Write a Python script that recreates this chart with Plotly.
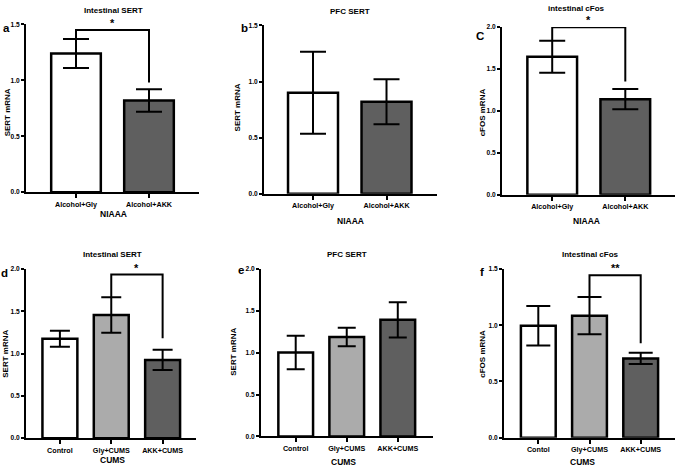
import plotly.graph_objects as go

# ---------------- data ----------------
niaaa_cats = ["Alcohol+Gly", "Alcohol+AKK"]
cums_cats = ["Control", "Gly+CUMS", "AKK+CUMS"]
cums_cats_f = ["Contol", "Gly+CUMS", "AKK+CUMS"]

a_mean = [1.24, 0.82]
a_sem = [0.13, 0.10]
b_mean = [0.90, 0.82]
b_sem = [0.365, 0.20]
c_mean = [1.645, 1.14]
c_sem = [0.19, 0.12]
d_mean = [1.175, 1.455, 0.925]
d_sem = [0.095, 0.21, 0.12]
e_mean = [1.00, 1.185, 1.39]
e_sem = [0.20, 0.11, 0.21]
f_mean = [0.995, 1.085, 0.705]
f_sem = [0.175, 0.165, 0.05]

# significance brackets: (left idx, right idx, bracket height, right leg end, label)
a_sig = (0, 1, 1.45, 0.98, "*")
c_sig = (0, 1, 1.995, 1.35, "*")
d_sig = (1, 2, 1.934, 1.18, "*")
f_sig = (1, 2, 1.444, 0.84, "**")

# ---------------- styling ----------------
W, H = 676, 470
FONT = "Liberation Sans, Arial, sans-serif"
WHITE, LIGHT, DARK = "#ffffff", "#ababab", "#5f5f5f"
two_colors = [WHITE, DARK]
three_colors = [WHITE, LIGHT, DARK]


def fx(px):
    return px / W


def fy(py):
    return 1 - py / H


panels = [
    dict(cats=niaaa_cats, mean=a_mean, sem=a_sem, colors=two_colors, sig=a_sig,
         xd=(26, 199), yd=(191, 20.7), ymax=1.5, title="Intestinal SERT", tpos=(113, 7),
         letter="a", lpos=(6, 24), ytitle="SERT mRNA", ytpos=(7, 110),
         xtitle="NIAAA", xtpos=(113, 213), cap=13, xr=(-0.685, 1.685)),
    dict(cats=niaaa_cats, mean=b_mean, sem=b_sem, colors=two_colors, sig=None,
         xd=(264, 437), yd=(192.7, 21.7), ymax=1.5, title="PFC SERT", tpos=(350, 8),
         letter="b", lpos=(244, 24), ytitle="SERT mRNA", ytpos=(237, 105),
         xtitle="NIAAA", xtpos=(350, 220), cap=13, xr=(-0.667, 1.687)),
    dict(cats=niaaa_cats, mean=c_mean, sem=c_sem, colors=two_colors, sig=c_sig,
         xd=(502, 675), yd=(193.7, 23.3), ymax=2.0, title="intestinal cFos", tpos=(576, 5),
         letter="C", lpos=(480, 32), ytitle="cFOS mRNA", ytpos=(482, 110),
         xtitle="NIAAA", xtpos=(586, 220), cap=13, xr=(-0.687, 1.68)),
    dict(cats=cums_cats, mean=d_mean, sem=d_sem, colors=three_colors, sig=d_sig,
         xd=(26, 196), yd=(440.7, 269), ymax=2.0, title="Intestinal SERT", tpos=(112, 254),
         letter="d", lpos=(4, 273), ytitle="SERT mRNA", ytpos=(6, 355),
         xtitle="CUMS", xtpos=(112, 463), cap=10, xr=(-0.66, 2.65)),
    dict(cats=cums_cats, mean=e_mean, sem=e_sem, colors=three_colors, sig=None,
         xd=(261, 433), yd=(439, 268.7), ymax=2.0, title="PFC SERT", tpos=(347, 254),
         letter="e", lpos=(241, 270), ytitle="SERT mRNA", ytpos=(234, 353),
         xtitle="CUMS", xtpos=(343, 465), cap=9, xr=(-0.68, 2.69)),
    dict(cats=cums_cats_f, mean=f_mean, sem=f_sem, colors=three_colors, sig=f_sig,
         xd=(504, 675), yd=(440.3, 269), ymax=1.5, title="Intestinal cFos", tpos=(590, 254),
         letter="f", lpos=(482, 272), ytitle="cFOS mRNA", ytpos=(483, 355),
         xtitle="CUMS", xtpos=(582, 465), cap=12, xr=(-0.67, 2.67)),
]

fig = go.Figure()
annotations = []
shapes = []

for i, p in enumerate(panels, start=1):
    xa = "x" if i == 1 else f"x{i}"
    ya = "y" if i == 1 else f"y{i}"
    xpos = list(range(len(p["cats"])))
    fig.add_trace(go.Bar(
        x=xpos, y=p["mean"], xaxis=xa, yaxis=ya, width=0.68,
        marker=dict(color=p["colors"], line=dict(color="black", width=2.5)),
        error_y=dict(type="data", array=p["sem"], visible=True,
                     color="black", thickness=2, width=p["cap"]),
        showlegend=False, hoverinfo="skip",
    ))
    axis_common = dict(showline=True, linecolor="black", linewidth=2,
                       ticks="outside", tickwidth=2, tickcolor="black",
                       showgrid=False, zeroline=False, fixedrange=True)
    fig.layout[("xaxis" if i == 1 else f"xaxis{i}")] = dict(
        domain=[fx(p["xd"][0]), fx(p["xd"][1])], anchor=ya, range=list(p["xr"]),
        tickvals=xpos, ticktext=[f"<b>{c}</b>" for c in p["cats"]], ticklen=4,
        tickfont=dict(family=FONT, size=7.2, color="black"), **axis_common)
    fig.layout[("yaxis" if i == 1 else f"yaxis{i}")] = dict(
        domain=[fy(p["yd"][0]), fy(p["yd"][1])], anchor=xa, range=[0, p["ymax"]],
        dtick=0.5, tickformat=".1f", tickprefix="<b>", ticksuffix="</b>", ticklen=3,
        tickfont=dict(family=FONT, size=6.6, color="black"),
        **axis_common)

    def ann(text, pos, size, angle=0):
        annotations.append(dict(text=f"<b>{text}</b>", x=fx(pos[0]), y=fy(pos[1]),
                                xref="paper", yref="paper", showarrow=False,
                                xanchor="center", yanchor="middle", textangle=angle,
                                font=dict(family=FONT, size=size, color="black")))

    ann(p["title"], p["tpos"], 8)
    ann(p["letter"], p["lpos"], 11.5)
    ann(p["ytitle"], p["ytpos"], 8, angle=-90)
    ann(p["xtitle"], p["xtpos"], 8.5)

    if p["sig"] is not None:
        li, ri, top, rend, lab = p["sig"]
        lstart = p["mean"][li] + p["sem"][li]
        shapes.append(dict(type="path", xref=xa, yref=ya,
                           path=f"M {li} {lstart} L {li} {top} L {ri} {top} L {ri} {rend}",
                           line=dict(color="black", width=2)))
        annotations.append(dict(text=f"<b>{lab}</b>", x=(li + ri) / 2, y=top,
                                xref=xa, yref=ya, showarrow=False,
                                xanchor="center", yanchor="bottom", yshift=-1,
                                font=dict(family=FONT, size=11, color="black")))

fig.update_layout(
    width=W, height=H, margin=dict(l=0, r=0, t=0, b=0),
    paper_bgcolor="white", plot_bgcolor="white",
    annotations=annotations, shapes=shapes, showlegend=False,
    bargap=0,
)

fig.write_html("out.html", config={"displayModeBar": False, "staticPlot": True},
               post_script="document.body.style.margin='0';document.body.style.overflow='hidden';")
